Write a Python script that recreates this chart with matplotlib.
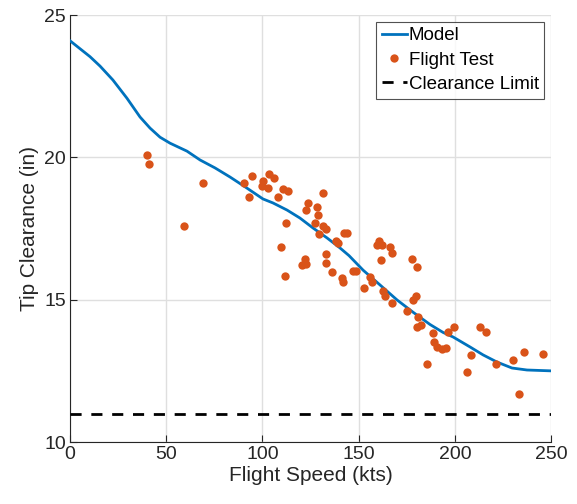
import matplotlib.pyplot as plt

plt.rcParams['font.family'] = ['Liberation Sans', 'DejaVu Sans']

# model curve
model_speed = [0, 10.4, 15.6, 22.3, 29.6, 36.4, 41.6, 46.8, 52.0, 60.8, 67.6, 75.4,
               83.2, 92.0, 100.3, 105.5, 112.8, 119.5, 126.3, 133.6, 140.3, 145.0,
               152.3, 161.1, 170.0, 178.3, 187.1, 193.9, 199.1, 207.9, 214.7, 221.9,
               229.7, 237.5, 250.0]
model_clear = [24.10, 23.54, 23.21, 22.72, 22.08, 21.42, 21.03, 20.71, 20.50, 20.22, 19.91, 19.63,
               19.31, 18.92, 18.54, 18.40, 18.15, 17.87, 17.52, 17.17, 16.82, 16.55,
               16.04, 15.52, 14.99, 14.56, 14.13, 13.85, 13.69, 13.34, 13.06, 12.81,
               12.60, 12.53, 12.50]

# flight test points
test_speed = [40.0, 41.1, 59.3, 69.2,
              90.4, 94.6, 93.0, 100.3, 99.8, 102.9, 103.4, 106.0, 108.1, 110.7, 113.3, 112.3, 109.7, 111.7,
              122.7, 123.7, 128.4, 128.9, 127.3, 131.5, 129.4, 131.5, 133.1, 138.3, 139.3, 142.4, 144.0,
              122.1, 120.6, 122.7, 133.1, 133.1, 136.2, 141.4, 141.9, 147.1, 148.6, 152.8, 155.9, 157.0,
              159.6, 160.6, 162.2, 166.3, 167.4, 161.6, 162.7, 163.7, 167.4, 175.2, 177.8, 180.4, 178.3,
              179.8, 180.9, 180.4, 182.4,
              188.7, 189.2, 190.7, 193.3, 195.4, 185.6, 196.5, 199.6, 213.1, 216.2, 208.4, 206.3, 221.4,
              230.2, 236.0, 245.8, 233.4]
test_clear = [20.08, 19.77, 17.59, 19.10,
              19.10, 19.34, 18.61, 19.17, 18.99, 18.92, 19.42, 19.27, 18.61, 18.89, 18.82, 17.69, 16.85, 15.83,
              18.15, 18.40, 18.26, 17.98, 17.69, 18.75, 17.31, 17.59, 17.48, 17.06, 16.99, 17.34, 17.34,
              16.43, 16.22, 16.25, 16.61, 16.29, 15.97, 15.76, 15.62, 16.01, 16.01, 15.41, 15.80, 15.62,
              16.92, 17.06, 16.92, 16.85, 16.64, 16.39, 15.31, 15.13, 14.88, 14.60, 16.43, 16.15, 14.99,
              15.13, 14.39, 14.04, 14.11,
              13.83, 13.51, 13.34, 13.27, 13.30, 12.74, 13.87, 14.04, 14.04, 13.87, 13.06, 12.46, 12.74,
              12.88, 13.16, 13.09, 11.69]

clearance_limit = 11.0

fig = plt.figure(figsize=(5.77, 5.04), dpi=100)
ax = fig.add_axes([0.1213, 0.123, 0.8337, 0.847])

ax.plot(model_speed, model_clear, color='#0072BD', lw=2, label='Model', zorder=3,
        solid_joinstyle='round')
ax.plot(test_speed, test_clear, 'o', color='#D95319', ms=6, mec='none', label='Flight Test', zorder=4)
ax.axhline(clearance_limit, color='black', lw=2, ls=(0, (4, 3.5)), label='Clearance Limit', zorder=3)

ax.set_xlim(0, 250)
ax.set_ylim(10, 25)
ax.set_xticks([0, 50, 100, 150, 200, 250])
ax.set_yticks([10, 15, 20, 25])
ax.grid(True, color='#dfdfdf', lw=1)
ax.set_axisbelow(True)
for s in ['top', 'right']:
    ax.spines[s].set_visible(False)
for s in ['left', 'bottom']:
    ax.spines[s].set_color('#262626')
ax.tick_params(direction='in', length=5, colors='#262626', labelsize=14, pad=3)

ax.set_xlabel('Flight Speed (kts)', fontsize=15, color='#262626', labelpad=2)
ax.set_ylabel('Tip Clearance (in)', fontsize=15, color='#262626', labelpad=4)

leg = ax.legend(loc='upper right', fontsize=13.5, frameon=True, fancybox=False,
                edgecolor='#262626', handlelength=1.35, handletextpad=0.1, borderpad=0.3,
                labelspacing=0.38, borderaxespad=0.35, markerscale=1.0)
leg.get_frame().set_linewidth(0.8)

fig.savefig('out.png', dpi=100)
